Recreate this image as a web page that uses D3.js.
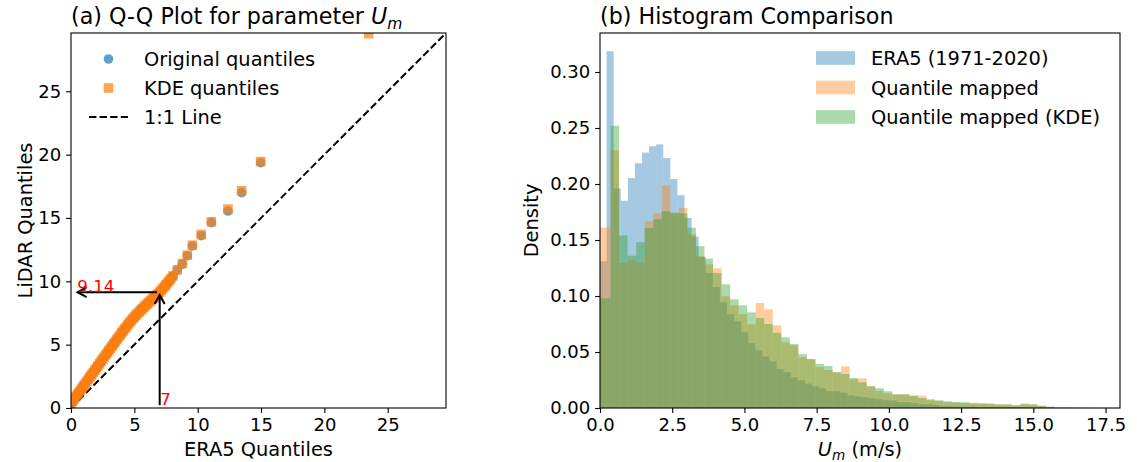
<!DOCTYPE html>
<html><head><meta charset="utf-8">
<script src="https://cdn.jsdelivr.net/npm/d3@7"></script>
<style>
body{margin:0;background:#fff;}
svg text{font-family:"DejaVu Sans",sans-serif;fill:#000;}
</style></head><body>
<svg id="chart" width="1137" height="462"></svg>
<script>
// ---------------- data ----------------
// (a) Q-Q plot: ERA5 quantiles (x) vs LiDAR quantiles (y)
const qqEra5 = [0.00,0.12,0.25,0.38,0.50,0.62,0.75,0.88,1.00,1.12,1.25,1.38,1.50,1.62,1.75,1.88,
  2.00,2.12,2.25,2.38,2.50,2.62,2.75,2.88,3.00,3.12,3.25,3.38,3.50,3.62,3.75,3.88,
  4.00,4.12,4.25,4.38,4.50,4.62,4.75,4.88,5.00,5.12,5.25,5.38,5.50,5.62,5.75,5.88,
  6.00,6.12,6.25,6.38,6.50,6.62,6.75,6.88,7.00,7.12,7.25,7.38,7.50,7.62,7.75,7.88,
  8.05,8.39,8.79,9.18,9.58,10.28,11.08,12.39,13.47,14.97,23.50];
const qqLidarOrig = [0.35,0.52,0.70,0.88,1.05,1.22,1.40,1.58,1.75,1.92,2.10,2.28,2.45,2.62,2.80,2.98,
  3.15,3.32,3.50,3.68,3.85,4.02,4.20,4.38,4.55,4.72,4.90,5.07,5.24,5.41,5.58,5.76,
  5.93,6.09,6.26,6.42,6.58,6.74,6.89,7.04,7.18,7.32,7.45,7.58,7.71,7.83,7.96,8.08,
  8.20,8.32,8.44,8.56,8.67,8.79,8.91,9.02,9.14,9.28,9.43,9.58,9.73,9.88,10.04,10.21,
  10.42,10.89,11.36,12.02,12.79,13.60,14.63,15.55,17.00,19.36,31.00];
const qqLidarKDE = [0.35,0.52,0.70,0.88,1.05,1.22,1.40,1.58,1.75,1.92,2.10,2.28,2.45,2.62,2.80,2.98,
  3.15,3.32,3.50,3.68,3.85,4.02,4.20,4.38,4.55,4.72,4.90,5.07,5.24,5.41,5.58,5.76,
  5.93,6.09,6.26,6.42,6.58,6.74,6.89,7.04,7.18,7.32,7.45,7.58,7.71,7.83,7.96,8.08,
  8.20,8.32,8.44,8.56,8.67,8.79,8.91,9.02,9.14,9.28,9.43,9.58,9.73,9.88,10.04,10.21,
  10.42,10.90,11.40,12.06,12.85,13.70,14.70,15.70,17.15,19.45,29.55];
const qqLimit = 29.6;
const qqTicks = [0,5,10,15,20,25];
const annotEra5 = 7, annotLidar = 9.14;
const annotLabels = ["9.14","7"];
const qqLegend = ["Original quantiles","KDE quantiles","1:1 Line"];

// (b) histograms (density per bin)
const era5BinStart = -0.017, era5BinWidth = 0.2452;
const era5Density = [0.131,0.3185,0.196,0.185,0.2054,0.2185,0.228,0.2337,0.2354,0.2232,
  0.2045,0.19,0.1697,0.153,0.135,0.1205,0.108,0.0944,0.0837,0.0774,
  0.0676,0.058,0.0515,0.0461,0.0417,0.0347,0.0319,0.0274,0.0248,0.0218,
  0.0194,0.0176,0.0149,0.0149,0.0137,0.0113,0.0104,0.0096,0.0087,0.008,
  0.0069,0.0066,0.0051,0.0051,0.0042,0.0033,0.0033,0.0027,0.0018,0.0015,
  0.0013,0.0012,0.0011,0.001,0.001,0.0009,0.0008,0.0008,0.0007,0.0007,
  0.0006,0.0006,0.0005,0.0005,0.0004,0.0004,0.0004,0.0003,0.0003,0.0002];
const mappedBinStart = -0.2246, mappedBinWidth = 0.2955;
const mappedDensity = [0.161,0.161,0.230,0.1295,0.132,0.1295,0.1667,0.1738,0.1988,0.1735,
  0.1786,0.155,0.1354,0.1283,0.1247,0.0997,0.0917,0.0837,0.0747,0.0938,
  0.0881,0.0738,0.0587,0.056,0.0453,0.0438,0.0366,0.034,0.0319,0.0372,
  0.0256,0.0265,0.0194,0.0152,0.0131,0.0122,0.0122,0.0113,0.011,0.0069,
  0.0063,0.0051,0.0048,0.0045,0.0048,0.0045,0.0042,0.003,0.003,0.0024,
  0.0042,0.003,0.0018,0.0009];
const mappedKdeDensity = [0.098,0.098,0.252,0.154,0.136,0.148,0.1607,0.1685,0.1756,0.1744,
  0.1738,0.161,0.1444,0.1333,0.1205,0.1104,0.097,0.0917,0.0854,0.0804,
  0.075,0.067,0.0631,0.0571,0.048,0.0435,0.0393,0.0375,0.0319,0.0304,
  0.0268,0.023,0.0194,0.0176,0.0149,0.0122,0.0122,0.0107,0.0089,0.0078,
  0.0069,0.006,0.0054,0.0051,0.0039,0.0037,0.0036,0.0033,0.0033,0.0024,
  0.0033,0.0033,0.0021,0.0012];
const histXDomain = [0, 18.0];
const histYMax = 0.3348;
const histXTicks = [0,2.5,5,7.5,10,12.5,15,17.5];
const histYTicks = [0,0.05,0.10,0.15,0.20,0.25,0.30];
const histLegend = ["ERA5 (1971-2020)","Quantile mapped","Quantile mapped (KDE)"];

// ---------------- drawing ----------------
const svg = d3.select("#chart");
const C = {blue:"#1f77b4", orange:"#ff7f0e", green:"#2ca02c"};
const tickFont = 18, labelFont = 19.4, titleFont = 22.2;

const L = {x0:71, x1:446, y0:33, y1:408};
const R = {x0:600, x1:1120, y0:33, y1:408};

const defs = svg.append("defs");
defs.append("clipPath").attr("id","clipL").append("rect")
  .attr("x",L.x0).attr("y",L.y0).attr("width",L.x1-L.x0).attr("height",L.y1-L.y0);
defs.append("clipPath").attr("id","clipR").append("rect")
  .attr("x",R.x0).attr("y",R.y0).attr("width",R.x1-R.x0).attr("height",R.y1-R.y0);

function styleAxis(g){
  g.select(".domain").remove();
  g.selectAll(".tick line").attr("stroke","#000").attr("stroke-width",1.1);
  g.selectAll(".tick text").attr("font-size",tickFont).attr("font-family","DejaVu Sans").attr("fill","#000");
}

// ===== Left panel =====
const xL = d3.scaleLinear().domain([0,qqLimit]).range([L.x0,L.x1]);
const yL = d3.scaleLinear().domain([0,qqLimit]).range([L.y1,L.y0]);
const gL = svg.append("g");
const plotL = gL.append("g").attr("clip-path","url(#clipL)");

// 1:1 line
plotL.append("line")
  .attr("x1",xL(0)).attr("y1",yL(0)).attr("x2",xL(qqLimit)).attr("y2",yL(qqLimit))
  .attr("stroke","#000").attr("stroke-width",2).attr("stroke-dasharray","7.4,3.2");

const pts = qqEra5.map((x,i)=>({x, yo:qqLidarOrig[i], yk:qqLidarKDE[i]}));
const rC = 4.8, sq = 9.6;
plotL.selectAll("circle.orig").data(pts).join("circle").attr("class","orig")
  .attr("cx",d=>xL(d.x)).attr("cy",d=>yL(d.yo)).attr("r",rC)
  .attr("fill",C.blue).attr("fill-opacity",0.7);
plotL.selectAll("rect.kde").data(pts).join("rect").attr("class","kde")
  .attr("x",d=>xL(d.x)-sq/2).attr("y",d=>yL(d.yk)-sq/2).attr("width",sq).attr("height",sq)
  .attr("fill",C.orange).attr("fill-opacity",0.7);

// arrows
function arrow(g, x1,y1,x2,y2){
  const shrink = 2.8;
  const dx=x2-x1, dy=y2-y1, len=Math.hypot(dx,dy), ux=dx/len, uy=dy/len;
  const sx=x1+ux*shrink, sy=y1+uy*shrink, ex=x2-ux*shrink, ey=y2-uy*shrink;
  g.append("line").attr("x1",sx).attr("y1",sy).attr("x2",ex).attr("y2",ey)
    .attr("stroke","#000").attr("stroke-width",2);
  const hl=9, hw=5, px=-uy, py=ux;
  g.append("path").attr("d",`M${ex-ux*hl+px*hw},${ey-uy*hl+py*hw}L${ex},${ey}L${ex-ux*hl-px*hw},${ey-uy*hl-py*hw}`)
    .attr("fill","none").attr("stroke","#000").attr("stroke-width",2);
}
arrow(gL, xL(annotEra5), yL(0), xL(annotEra5), yL(annotLidar));
arrow(gL, xL(annotEra5), yL(annotLidar), xL(0.3), yL(annotLidar));
gL.append("text").attr("x",xL(0.5)).attr("y",yL(annotLidar)).text(annotLabels[0])
  .attr("font-size",16.7).style("fill","red");
gL.append("text").attr("x",xL(7.05)).attr("y",yL(0.24)).text(annotLabels[1])
  .attr("font-size",16.7).style("fill","red");

// spines
gL.append("rect").attr("x",L.x0).attr("y",L.y0).attr("width",L.x1-L.x0).attr("height",L.y1-L.y0)
  .attr("fill","none").attr("stroke","#000").attr("stroke-width",1.1);

gL.append("g").attr("transform",`translate(0,${L.y1})`)
  .call(d3.axisBottom(xL).tickValues(qqTicks).tickSize(4.9).tickPadding(4.9).tickFormat(d3.format("d")))
  .call(styleAxis);
gL.append("g").attr("transform",`translate(${L.x0},0)`)
  .call(d3.axisLeft(yL).tickValues(qqTicks).tickSize(4.9).tickPadding(4.9).tickFormat(d3.format("d")))
  .call(styleAxis);

// labels
gL.append("text").attr("x",(L.x0+L.x1)/2).attr("y",456).attr("text-anchor","middle")
  .attr("font-size",labelFont).text("ERA5 Quantiles");
gL.append("text").attr("transform",`translate(32,${(L.y0+L.y1)/2}) rotate(-90)`).attr("text-anchor","middle")
  .attr("font-size",labelFont).text("LiDAR Quantiles");
const tL = gL.append("text").attr("x",L.x0).attr("y",24).attr("font-size",titleFont);
tL.append("tspan").text("(a) Q-Q Plot for parameter ");
tL.append("tspan").attr("font-style","italic").text("U");
tL.append("tspan").attr("font-style","italic").attr("font-size",titleFont*0.7).attr("dy",4.5).text("m");

// legend left
const lgL = gL.append("g");
lgL.append("circle").attr("cx",108.5).attr("cy",59).attr("r",rC).attr("fill",C.blue).attr("fill-opacity",0.7);
lgL.append("rect").attr("x",108.5-sq/2).attr("y",88-sq/2).attr("width",sq).attr("height",sq).attr("fill",C.orange).attr("fill-opacity",0.7);
lgL.append("line").attr("x1",89).attr("x2",128).attr("y1",117).attr("y2",117)
  .attr("stroke","#000").attr("stroke-width",2).attr("stroke-dasharray","7.4,3.2");
qqLegend.forEach((t,i)=>lgL.append("text").attr("x",144).attr("y",66+i*29).attr("font-size",labelFont).text(t));

// ===== Right panel =====
const xR = d3.scaleLinear().domain(histXDomain).range([R.x0,R.x1]);
const yR = d3.scaleLinear().domain([0,histYMax]).range([R.y1,R.y0]);
const gR = svg.append("g");
const plotR = gR.append("g").attr("clip-path","url(#clipR)");

function drawHist(vals, start, width, color){
  plotR.append("g").selectAll("rect").data(vals).join("rect")
    .attr("x",(d,i)=>xR(start+i*width))
    .attr("width",(d,i)=>xR(start+(i+1)*width)-xR(start+i*width))
    .attr("y",d=>yR(d)).attr("height",d=>yR(0)-yR(d))
    .attr("fill",color).attr("fill-opacity",0.4);
}
drawHist(era5Density, era5BinStart, era5BinWidth, C.blue);
drawHist(mappedDensity, mappedBinStart, mappedBinWidth, C.orange);
drawHist(mappedKdeDensity, mappedBinStart, mappedBinWidth, C.green);

gR.append("rect").attr("x",R.x0).attr("y",R.y0).attr("width",R.x1-R.x0).attr("height",R.y1-R.y0)
  .attr("fill","none").attr("stroke","#000").attr("stroke-width",1.1);
gR.append("g").attr("transform",`translate(0,${R.y1})`)
  .call(d3.axisBottom(xR).tickValues(histXTicks).tickSize(4.9).tickPadding(4.9).tickFormat(d3.format(".1f")))
  .call(styleAxis);
gR.append("g").attr("transform",`translate(${R.x0},0)`)
  .call(d3.axisLeft(yR).tickValues(histYTicks).tickSize(4.9).tickPadding(4.9).tickFormat(d3.format(".2f")))
  .call(styleAxis);

const xlR = gR.append("text").attr("x",(R.x0+R.x1)/2).attr("y",456).attr("text-anchor","middle").attr("font-size",labelFont);
xlR.append("tspan").attr("font-style","italic").text("U");
xlR.append("tspan").attr("font-style","italic").attr("font-size",labelFont*0.7).attr("dy",4).text("m");
xlR.append("tspan").attr("dy",-4).text(" (m/s)");
gR.append("text").attr("transform",`translate(538,${(R.y0+R.y1)/2}) rotate(-90)`).attr("text-anchor","middle")
  .attr("font-size",labelFont).text("Density");
gR.append("text").attr("x",R.x0).attr("y",24).attr("font-size",titleFont).text("(b) Histogram Comparison");

const lgR = gR.append("g");
[C.blue,C.orange,C.green].forEach((c,i)=>{
  lgR.append("rect").attr("x",816).attr("y",58+i*29.5-6.8).attr("width",39).attr("height",13.6)
    .attr("fill",c).attr("fill-opacity",0.4);
  lgR.append("text").attr("x",871).attr("y",65+i*29.5).attr("font-size",labelFont).text(histLegend[i]);
});
</script>
</body></html>
